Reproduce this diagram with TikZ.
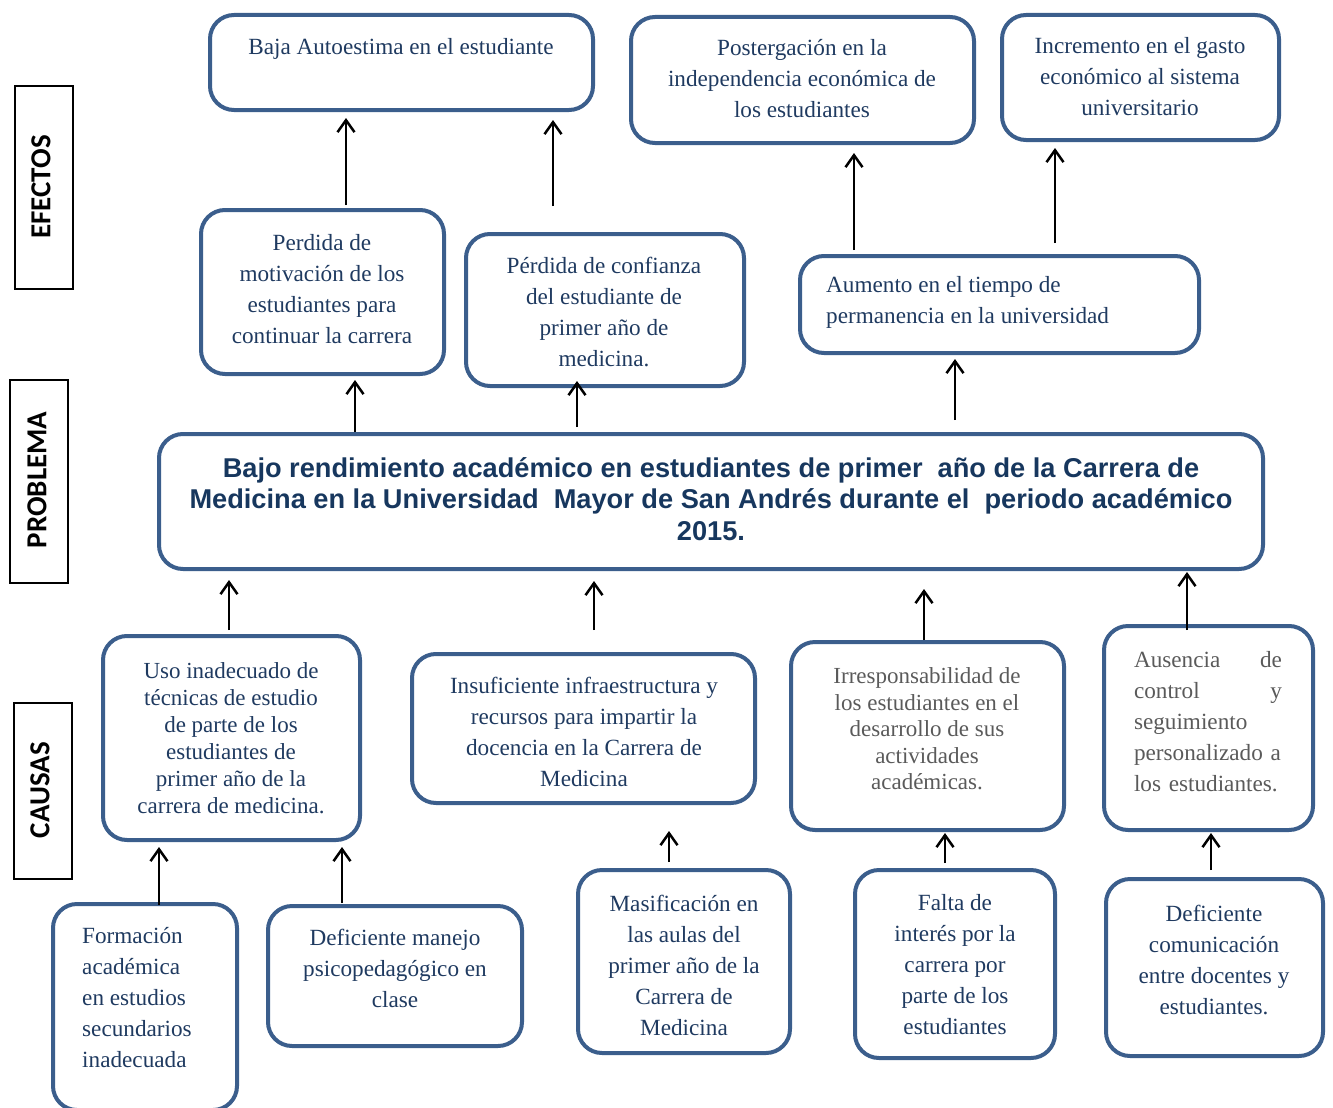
\documentclass[tikz,border=0pt]{standalone}
\usepackage{fontspec}
\setmainfont{Liberation Serif}
\newfontfamily\probfont{Liberation Sans}
\newfontfamily\lblfont{Carlito}
\usetikzlibrary{arrows.meta}
\definecolor{boxc}{HTML}{3B5E8C}
\definecolor{txtc}{HTML}{1F3A60}
\definecolor{probc}{HTML}{17375E}
\definecolor{grayc}{HTML}{5A5A5A}
\tikzset{
  box/.style={draw=boxc, line width=4pt, rounded corners=24pt, inner sep=0pt, outer sep=0pt},
  txt/.style={text=txtc, align=center, inner sep=0pt, font=\fontsize{23.2}{31}\selectfont},
  gtxt/.style={txt, text=grayc},
  arr/.style={line width=2.5pt, -{Straight Barb[length=12pt,width=17pt]}},
  lblbox/.style={draw=black, line width=2.2pt, inner sep=0pt},
  lbl/.style={rotate=90, font=\lblfont\bfseries\fontsize{29}{32}\selectfont, inner sep=0pt}
}
\newcommand\bx[5]{\node[box, minimum width={#4-#2-4}, minimum height={#5-#3-4}] (#1) at ({(#2+#4)/2},{(#3+#5)/2}) {};}
\begin{document}
\begin{tikzpicture}[x=1pt,y=-1pt]
\useasboundingbox (0,0) rectangle (1333,1108);
% side labels
\node[lblbox, minimum width=58, minimum height=203] (lef) at (44,187.5) {};
\node[lbl] (tef) at (41,187) {EFECTOS};
\node[lblbox, minimum width=58, minimum height=203] (lpr) at (39,481.5) {};
\node[lbl] (tpr) at (37,480) {PROBLEMA};
\node[lblbox, minimum width=58, minimum height=176] (lca) at (43,791) {};
\node[lbl] (tca) at (40,790) {CAUSAS};
% effects top
\bx{baja}{208}{13}{595}{112}
\node[txt] (tbaja) at (401,49) {Baja Autoestima en el estudiante};
\bx{poster}{629}{15}{976}{145}
\node[txt] (tposter) at (802,79) {Postergación en la\\independencia económica de\\los estudiantes};
\bx{incre}{1000}{13}{1281}{142}
\node[txt] (tincre) at (1140,77) {Incremento en el gasto\\económico al sistema\\universitario};
% effects second
\bx{perd}{199}{208}{446}{376}
\node[txt] (tperd) at (322,289) {Perdida de\\motivación de los\\estudiantes para\\continuar la carrera};
\bx{pconf}{464}{232}{746}{388}
\node[txt] (tpconf) at (604,312) {Pérdida de confianza\\del estudiante de\\primer año de\\medicina.};
\bx{aum}{798}{254}{1201}{355}
\node[txt, align=left, anchor=west] (taum) at (826,302) {Aumento en el tiempo de\\permanencia en la universidad};
% problem
\bx{prob}{157}{432}{1265}{571}
\node[txt, text=probc, font=\probfont\bfseries\fontsize{27.2}{31.5}\selectfont] (tprob) at (711,499) {Bajo rendimiento académico en estudiantes de primer\ \ año de la Carrera de\\Medicina en la Universidad\ \ Mayor de San Andrés durante el\ \ periodo académico\\2015.};
% causes
\bx{uso}{101}{634}{362}{842}
\node[txt, font=\fontsize{23}{27}\selectfont] (tuso) at (231,738) {Uso inadecuado de\\técnicas de estudio\\de parte de los\\estudiantes de\\primer año de la\\carrera de medicina.};
\bx{insuf}{410}{652}{757}{805}
\node[txt] (tinsuf) at (584,732) {Insuficiente infraestructura y\\recursos para impartir la\\docencia en la Carrera de\\Medicina};
\bx{irr}{789}{640}{1066}{832}
\node[gtxt, font=\fontsize{23}{26.5}\selectfont] (tirr) at (927,729) {Irresponsabilidad de\\los estudiantes en el\\desarrollo de sus\\actividades\\académicas.};
\bx{aus}{1102}{624}{1315}{832}
\node[gtxt, align=left, text width=148pt] (taus) at (1208,722) {Ausencia\hfill de\\control\hfill y\\seguimiento\\personalizado a\\los estudiantes.};
% bottom causes
\bx{form}{51}{902}{239}{1112}
\node[txt, align=left, anchor=west] (tform) at (82,998) {Formación\\académica\\en estudios\\secundarios\\inadecuada};
\bx{defman}{266}{904}{524}{1048}
\node[txt] (tdefman) at (395,968) {Deficiente manejo\\psicopedagógico en\\clase};
\bx{masif}{576}{868}{792}{1055}
\node[txt] (tmasif) at (684,965) {Masificación en\\las aulas del\\primer año de la\\Carrera de\\Medicina};
\bx{falta}{853}{868}{1057}{1060}
\node[txt] (tfalta) at (955,965) {Falta de\\interés por la\\carrera por\\parte de los\\estudiantes};
\bx{defcom}{1104}{877}{1325}{1058}
\node[txt] (tdefcom) at (1214,960) {Deficiente\\comunicación\\entre docentes y\\estudiantes.};
% arrow end coordinates
\coordinate (a1s) at (346,205); \coordinate (a1e) at (346,118);
\coordinate (a2s) at (553,206); \coordinate (a2e) at (553,120);
\coordinate (a3s) at (854,250); \coordinate (a3e) at (854,153);
\coordinate (a4s) at (1055,243); \coordinate (a4e) at (1055,148);
\coordinate (a5s) at (355,432); \coordinate (a5e) at (355,380);
\coordinate (a6s) at (577,427); \coordinate (a6e) at (577,381);
\coordinate (a7s) at (955,420); \coordinate (a7e) at (955,359);
\coordinate (a8s) at (229,630); \coordinate (a8e) at (229,580);
\coordinate (a9s) at (594,630); \coordinate (a9e) at (594,581);
\coordinate (a10s) at (924,640); \coordinate (a10e) at (924,589);
\coordinate (a11s) at (1187,630); \coordinate (a11e) at (1187,572);
\coordinate (a12s) at (159,905); \coordinate (a12e) at (159,847);
\coordinate (a13s) at (342,903); \coordinate (a13e) at (342,847);
\coordinate (a14s) at (669,862); \coordinate (a14e) at (669,831);
\coordinate (a15s) at (945,863); \coordinate (a15e) at (945,833);
\coordinate (a16s) at (1211,870); \coordinate (a16e) at (1211,833);
\foreach \i in {1,...,16} {\draw[arr] (a\i s) -- (a\i e);}
\end{tikzpicture}
\end{document}
